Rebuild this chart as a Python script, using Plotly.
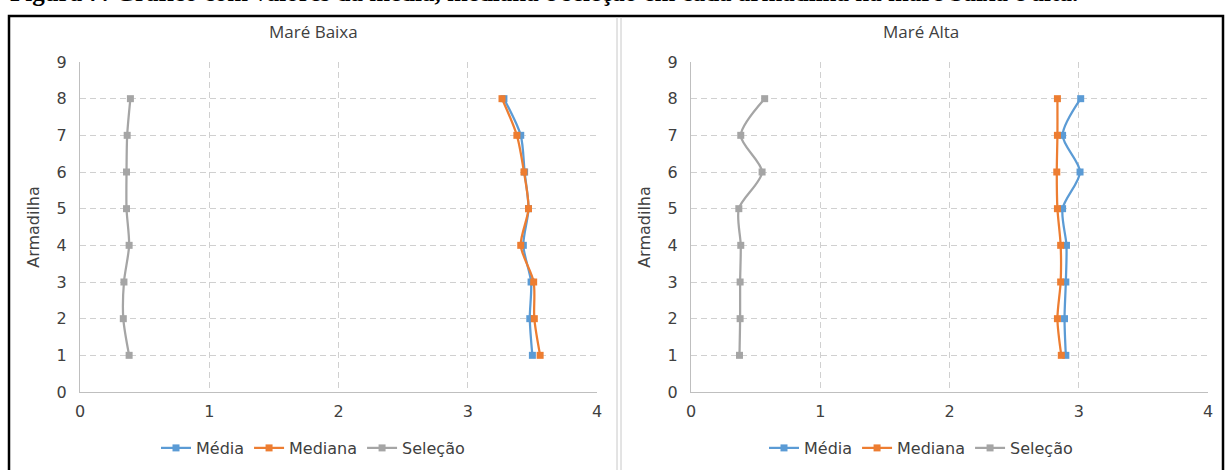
import plotly.graph_objects as go

# Trap number (Armadilha) on the vertical axis
armadilha = [1, 2, 3, 4, 5, 6, 7, 8]

# Low tide (Maré Baixa)
baixa_media = [3.50, 3.48, 3.49, 3.43, 3.47, 3.44, 3.41, 3.28]
baixa_mediana = [3.56, 3.515, 3.51, 3.41, 3.47, 3.435, 3.38, 3.265]
baixa_selecao = [0.38, 0.335, 0.34, 0.38, 0.36, 0.36, 0.365, 0.39]

# High tide (Maré Alta)
alta_media = [2.90, 2.89, 2.90, 2.905, 2.875, 3.01, 2.875, 3.015]
alta_mediana = [2.865, 2.835, 2.86, 2.86, 2.835, 2.83, 2.835, 2.835]
alta_selecao = [0.375, 0.38, 0.38, 0.385, 0.37, 0.55, 0.385, 0.57]

series_names = ["Média", "Mediana", "Seleção"]
colors = ["#5B9BD5", "#ED7D31", "#A5A5A5"]

x_ticks = [0, 1, 2, 3, 4]
y_ticks = list(range(0, 10))

W, H = 1229, 470
FONT = "DejaVu Sans"
TXT = "#404040"

fig = go.Figure()

panels = [
    ("x", "y", "legend", [baixa_media, baixa_mediana, baixa_selecao]),
    ("x2", "y2", "legend2", [alta_media, alta_mediana, alta_selecao]),
]
for xa, ya, lg, data in panels:
    for name, color, vals in zip(series_names, colors, data):
        fig.add_trace(go.Scatter(
            x=vals, y=armadilha, name=name, mode="lines+markers",
            xaxis=xa, yaxis=ya, legend=lg,
            line=dict(color=color, width=2.25, shape="spline", smoothing=0.8),
            marker=dict(symbol="square", size=7, color=color),
        ))

def px_x(p):
    return p / W

def px_y(p):
    return 1 - p / H

axis_common = dict(
    showline=True, linecolor="#BFBFBF", linewidth=1,
    showgrid=True, gridcolor="#D0D0D0", gridwidth=1, griddash="6px,4px",
    zeroline=False, ticks="", automargin=False,
    tickfont=dict(family=FONT, size=16, color=TXT),
)
ytitle = dict(text="Armadilha", standoff=13, font=dict(family=FONT, size=16, color=TXT))

fig.update_layout(
    width=W, height=H,
    margin=dict(l=0, r=0, t=0, b=0, autoexpand=False),
    paper_bgcolor="white", plot_bgcolor="white",
    showlegend=True,
    xaxis=dict(domain=[px_x(80), px_x(597)], range=[0, 4], tickvals=x_ticks,
               anchor="y", ticklabelstandoff=5, **axis_common),
    yaxis=dict(domain=[px_y(392), px_y(62)], range=[0, 9], tickvals=y_ticks,
               anchor="x", ticklabelstandoff=9, title=ytitle, **axis_common),
    xaxis2=dict(domain=[px_x(691), px_x(1208)], range=[0, 4], tickvals=x_ticks,
                anchor="y2", ticklabelstandoff=5, **axis_common),
    yaxis2=dict(domain=[px_y(392), px_y(62)], range=[0, 9], tickvals=y_ticks,
                anchor="x2", ticklabelstandoff=9, title=ytitle, **axis_common),
    legend=dict(orientation="h", x=px_x(313), xanchor="center",
                y=px_y(448), yanchor="middle",
                font=dict(family=FONT, size=16, color=TXT),
                itemwidth=30, tracegroupgap=0, bgcolor="rgba(0,0,0,0)"),
    legend2=dict(orientation="h", x=px_x(921), xanchor="center",
                 y=px_y(448), yanchor="middle",
                 font=dict(family=FONT, size=16, color=TXT),
                 itemwidth=30, tracegroupgap=0, bgcolor="rgba(0,0,0,0)"),
)

# Panel titles
for text, cx in [("Maré Baixa", 313), ("Maré Alta", 921)]:
    fig.add_annotation(text=text, xref="paper", yref="paper",
                       x=px_x(cx), y=px_y(31), xanchor="center", yanchor="middle",
                       showarrow=False,
                       font=dict(family="Open Sans", size=17, color=TXT))

# Figure caption along the top edge
fig.add_annotation(
    text="<b>Figura 7: Gráfico com valores da média, mediana e seleção em cada armadilha na maré baixa e alta.</b>",
    xref="paper", yref="paper", x=px_x(8), y=px_y(8),
    xanchor="left", yanchor="bottom", showarrow=False,
    font=dict(family="Liberation Serif", size=25, color="black"),
)

# Outer frame and panel separators
fig.add_shape(type="rect", xref="paper", yref="paper",
              x0=px_x(9), x1=px_x(1223), y0=px_y(480), y1=px_y(16),
              line=dict(color="black", width=2.5), fillcolor="rgba(0,0,0,0)")
for sx in (617, 621):
    fig.add_shape(type="line", xref="paper", yref="paper",
                  x0=px_x(sx), x1=px_x(sx), y0=px_y(480), y1=px_y(17),
                  line=dict(color="#C8C8C8", width=1))

fig.write_html("out.html")
